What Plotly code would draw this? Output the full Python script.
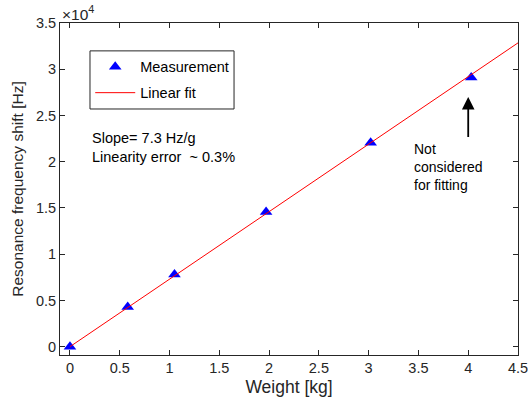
import plotly.graph_objects as go

weight_kg = [0.0, 0.58, 1.05, 1.97, 3.02, 4.03]
shift_hz = [0, 4300, 7800, 14550, 22050, 29100]
fit_x = [0.0, 4.5]
fit_y = [0, 32850]
x_ticks = [0, 0.5, 1, 1.5, 2, 2.5, 3, 3.5, 4, 4.5]
y_ticks = [0, 5000, 10000, 15000, 20000, 25000, 30000, 35000]
y_ticktext = ["0", "0.5", "1", "1.5", "2", "2.5", "3", "3.5"]

FONT = "Liberation Sans, Arial, sans-serif"
TXT = "#262626"

fig = go.Figure()
fig.add_trace(go.Scatter(x=weight_kg, y=shift_hz, mode="markers", name="Measurement",
                         legendgroup="a",
                         marker=dict(symbol="triangle-up", size=11, color="#0000ff")))
fig.add_trace(go.Scatter(x=fit_x, y=fit_y, mode="lines", name="Linear fit",
                         legendgroup="b",
                         line=dict(color="#ff0000", width=1)))

axis_common = dict(showline=True, linecolor=TXT, linewidth=1, mirror="ticks",
                   ticks="inside", ticklen=5, tickcolor=TXT, showgrid=False,
                   zeroline=False, automargin=False, ticklabeloverflow="allow",
                   tickfont=dict(family=FONT, size=14.5, color=TXT))
fig.update_xaxes(range=[-0.1, 4.5], tickvals=x_ticks,
                 title=dict(text="Weight [kg]", font=dict(family=FONT, size=17.5, color=TXT), standoff=5),
                 **axis_common)
fig.update_yaxes(range=[-900, 35000], tickvals=y_ticks, ticktext=y_ticktext,
                 title=dict(text="Resonance frequency shift [Hz]", font=dict(family=FONT, size=15.5, color=TXT), standoff=8),
                 **axis_common)

fig.add_annotation(xref="paper", yref="paper", x=0.0, y=1.0, xanchor="left", yanchor="bottom",
                   yshift=-2, text="×10<sup>4</sup>", showarrow=False,
                   font=dict(family=FONT, size=15.5, color=TXT))
fig.add_annotation(x=0.2, y=21500, xanchor="left", yanchor="middle", align="left",
                   text="Slope= 7.3 Hz/g<br>Linearity error  ~ 0.3%", showarrow=False,
                   font=dict(family=FONT, size=14.5, color="#000000"))
fig.add_annotation(x=3.44, y=19400, xanchor="left", yanchor="middle", align="left",
                   text="Not<br>considered<br>for fitting", showarrow=False,
                   font=dict(family=FONT, size=14, color="#000000"))
fig.add_annotation(x=4.0, y=27000, ax=4.0, ay=22500, axref="x", ayref="y", xref="x", yref="y",
                   text="", showarrow=True, arrowhead=2, arrowsize=1.4, arrowwidth=1.8, arrowcolor="#000000")

# legend frame
fig.add_shape(type="rect", xref="paper", yref="paper", x0=0.0655, x1=0.380, y0=0.741, y1=0.916,
              line=dict(color=TXT, width=1), fillcolor="white", layer="above")

fig.update_layout(width=528, height=407, margin=dict(l=60, r=10, t=23, b=52),
                  plot_bgcolor="white", paper_bgcolor="white",
                  legend=dict(x=0.066, y=0.916, xanchor="left", yanchor="top",
                              bgcolor="rgba(0,0,0,0)", borderwidth=0,
                              font=dict(family=FONT, size=14.5, color="#000000"),
                              itemwidth=40, tracegroupgap=4))
fig.write_html("out.html")
